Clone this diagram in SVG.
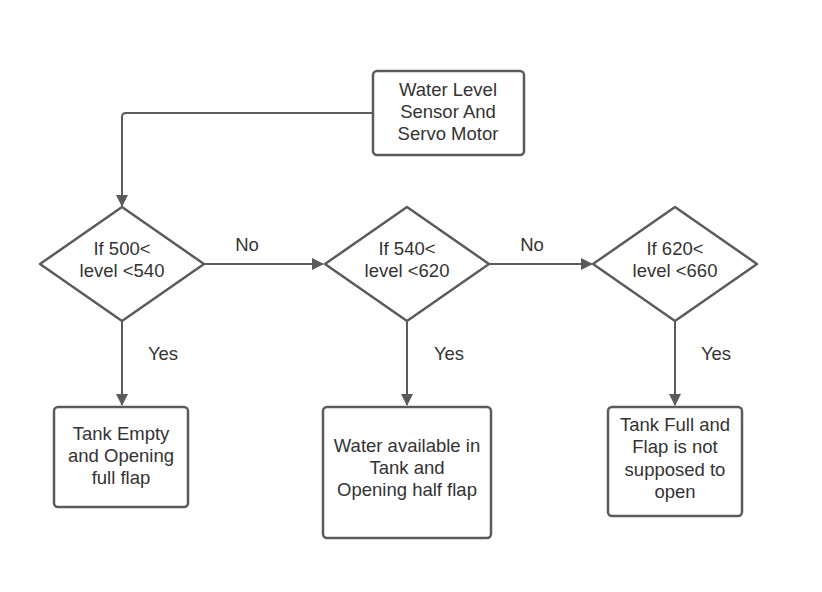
<svg xmlns="http://www.w3.org/2000/svg" width="822" height="592" viewBox="0 0 822 592">
<defs>
<marker id="ah" markerWidth="12" markerHeight="12" viewBox="0 0 12 12" refX="11" refY="6" orient="auto" markerUnits="userSpaceOnUse">
<path d="M0,0 L12,6 L0,12 Z" fill="#5b5b5b"/>
</marker>
<style>
.n{fill:#fff;stroke:#5b5b5b;stroke-width:2.5}
.c{fill:none;stroke:#5b5b5b;stroke-width:2}
.t{font-family:"Liberation Sans",Arial,sans-serif;font-size:18.5px;fill:#333;text-anchor:middle}
</style>
</defs>
<rect width="822" height="592" fill="#fff"/>
<g id="connectors">
<path class="c" d="M373,113 H126 Q122,113 122,117 V206" marker-end="url(#ah)"/>
<path class="c" d="M204,264 H323" marker-end="url(#ah)"/>
<path class="c" d="M489,264 H592" marker-end="url(#ah)"/>
<path class="c" d="M122,321 V405" marker-end="url(#ah)"/>
<path class="c" d="M407,321 V405" marker-end="url(#ah)"/>
<path class="c" d="M675,321 V405" marker-end="url(#ah)"/>
<text class="t" x="247" y="251">No</text>
<text class="t" x="532" y="251">No</text>
<text class="t" x="163" y="360">Yes</text>
<text class="t" x="449" y="360">Yes</text>
<text class="t" x="716" y="360">Yes</text>
</g>
<g id="start">
<rect class="n" x="373" y="71" width="151" height="84" rx="4"/>
<text class="t" x="448" y="96">Water Level</text>
<text class="t" x="448" y="118">Sensor And</text>
<text class="t" x="448" y="140">Servo Motor</text>
</g>
<g id="d1">
<path class="n" d="M122,207 L204,264 L122,321 L40,264 Z" stroke-linejoin="round"/>
<text class="t" x="122" y="255">If 500&lt;</text>
<text class="t" x="122" y="277">level &lt;540</text>
</g>
<g id="d2">
<path class="n" d="M407,207 L489,264 L407,321 L325,264 Z" stroke-linejoin="round"/>
<text class="t" x="407" y="255">If 540&lt;</text>
<text class="t" x="407" y="277">level &lt;620</text>
</g>
<g id="d3">
<path class="n" d="M675,207 L757,264 L675,321 L593,264 Z" stroke-linejoin="round"/>
<text class="t" x="675" y="255">If 620&lt;</text>
<text class="t" x="675" y="277">level &lt;660</text>
</g>
<g id="b1">
<rect class="n" x="54" y="407" width="134" height="100" rx="4"/>
<text class="t" x="121" y="440">Tank Empty</text>
<text class="t" x="121" y="462">and Opening</text>
<text class="t" x="121" y="484">full flap</text>
</g>
<g id="b2">
<rect class="n" x="323" y="407" width="168" height="131" rx="4"/>
<text class="t" x="407" y="452">Water available in</text>
<text class="t" x="407" y="474">Tank and</text>
<text class="t" x="407" y="496">Opening half flap</text>
</g>
<g id="b3">
<rect class="n" x="608" y="407" width="134" height="109" rx="4"/>
<text class="t" x="675" y="431">Tank Full and</text>
<text class="t" x="675" y="453">Flap is not</text>
<text class="t" x="675" y="476">supposed to</text>
<text class="t" x="675" y="498">open</text>
</g>
</svg>
